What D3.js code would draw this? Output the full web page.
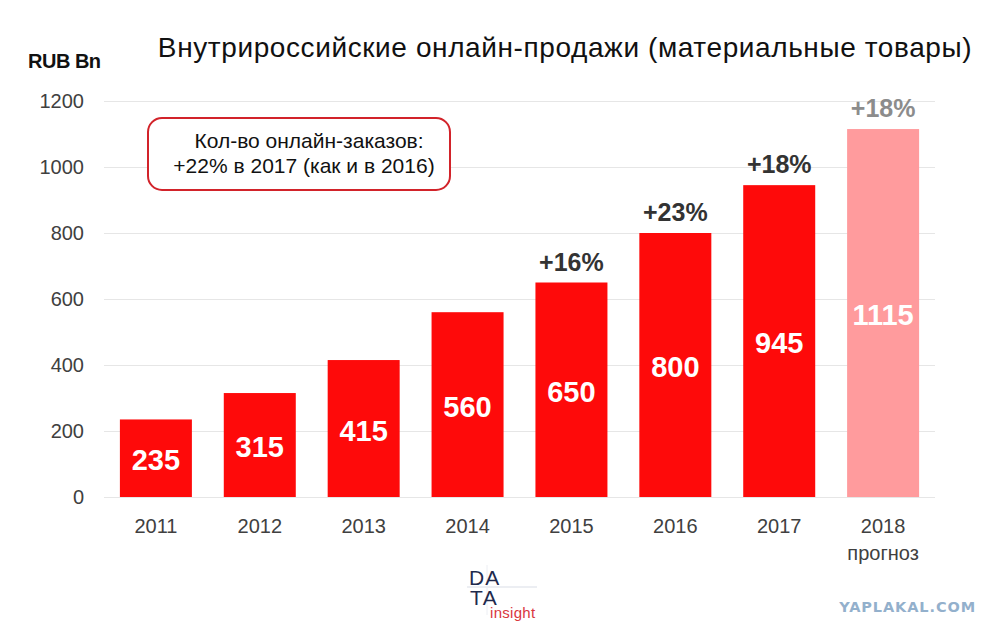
<!DOCTYPE html>
<html>
<head>
<meta charset="utf-8">
<script src="https://cdn.jsdelivr.net/npm/d3@7"></script>
<style>
  body { margin: 0; background: #fff; }
  text { font-family: Arial, "Liberation Sans", sans-serif; }
</style>
</head>
<body>
<div id="chart"></div>
<script>
// данные
const years = ["2011", "2012", "2013", "2014", "2015", "2016", "2017", "2018"];
const sales = [235, 315, 415, 560, 650, 800, 945, 1115];
const growth = [null, null, null, null, "+16%", "+23%", "+18%", "+18%"];
const forecast = [false, false, false, false, false, false, false, true];
const yTicks = [0, 200, 400, 600, 800, 1000, 1200];

const W = 1001, H = 636;

const svg = d3.select("#chart")
    .append("svg")
    .attr("width", W)
    .attr("height", H);

const x = d3.scaleBand()
    .domain(years)
    .range([104, 935])
    .paddingInner(0.307)
    .paddingOuter(0.153);

const y = d3.scaleLinear()
    .domain([0, 1200])
    .range([497, 101]);

// сетка
const yAxis = d3.axisLeft(y)
    .tickValues(yTicks)
    .tickFormat(d3.format("d"))
    .tickSize(-(935 - 104))
    .tickSizeOuter(0)
    .tickPadding(20);

const gy = svg.append("g")
    .attr("transform", "translate(104,0)")
    .call(yAxis);
gy.select(".domain").remove();
gy.selectAll("line")
    .style("stroke", "#e6e6e6")
    .style("stroke-width", 1)
    .style("shape-rendering", "crispEdges");
gy.selectAll("text")
    .style("font-size", "20px")
    .style("fill", "#404040");

// подписи оси X
const xAxis = d3.axisBottom(x).tickSize(0).tickPadding(22);
const gx = svg.append("g")
    .attr("transform", "translate(0,497)")
    .call(xAxis);
gx.select(".domain").remove();
gx.selectAll("text")
    .style("font-size", "20px")
    .style("fill", "#404040");

svg.append("text")
    .attr("x", x("2018") + x.bandwidth() / 2)
    .attr("y", 560)
    .attr("text-anchor", "middle")
    .style("font-size", "20px")
    .style("fill", "#404040")
    .text("прогноз");

// столбцы
const data = years.map((d, i) => ({ year: d, value: sales[i], g: growth[i], f: forecast[i] }));

svg.selectAll(".bar")
    .data(data)
    .enter().append("rect")
    .attr("class", "bar")
    .attr("x", d => x(d.year))
    .attr("y", d => y(d.value))
    .attr("width", x.bandwidth())
    .attr("height", d => y(0) - y(d.value))
    .style("fill", d => d.f ? "#ff9b9d" : "#fe0a0a");

svg.selectAll(".val")
    .data(data)
    .enter().append("text")
    .attr("class", "val")
    .attr("x", d => x(d.year) + x.bandwidth() / 2)
    .attr("y", d => (y(d.value) + y(0)) / 2 + 12)
    .attr("text-anchor", "middle")
    .style("font-size", "29px")
    .style("font-weight", "bold")
    .style("fill", "#fff")
    .text(d => d.value);

svg.selectAll(".grow")
    .data(data.filter(d => d.g))
    .enter().append("text")
    .attr("class", "grow")
    .attr("x", d => x(d.year) + x.bandwidth() / 2)
    .attr("y", d => y(d.value) - 12)
    .attr("text-anchor", "middle")
    .style("font-size", "25px")
    .style("font-weight", "bold")
    .style("fill", d => d.f ? "#8c8c8c" : "#333")
    .text(d => d.g);

// заголовок
svg.append("text")
    .attr("x", 565)
    .attr("y", 57)
    .attr("text-anchor", "middle")
    .style("font-size", "28px")
    .style("letter-spacing", "0.6px")
    .style("fill", "#111")
    .text("Внутрироссийские онлайн-продажи (материальные товары)");

svg.append("text")
    .attr("x", 28)
    .attr("y", 68)
    .style("font-size", "20px")
    .style("font-weight", "bold")
    .style("letter-spacing", "-0.5px")
    .style("fill", "#111")
    .text("RUB Bn");

// выноска
svg.append("rect")
    .attr("x", 148)
    .attr("y", 118)
    .attr("width", 302)
    .attr("height", 72)
    .attr("rx", 14)
    .style("fill", "#fff")
    .style("stroke", "#d2232a")
    .style("stroke-width", 2);

svg.append("text")
    .attr("x", 309)
    .attr("y", 148)
    .attr("text-anchor", "middle")
    .style("font-size", "21px")
    .style("fill", "#111")
    .text("Кол-во онлайн-заказов:");

svg.append("text")
    .attr("x", 304)
    .attr("y", 173)
    .attr("text-anchor", "middle")
    .style("font-size", "21px")
    .style("fill", "#111")
    .text("+22% в 2017 (как и в 2016)");

// логотип
const logo = svg.append("g").attr("transform", "translate(469,585)");
logo.append("line")
    .attr("x1", -2).attr("x2", 68)
    .attr("y1", 2).attr("y2", 2)
    .style("stroke", "#d9dde6").style("stroke-width", 1);
logo.append("line")
    .attr("x1", 18).attr("x2", 18)
    .attr("y1", -20).attr("y2", 30)
    .style("stroke", "#eceef3").style("stroke-width", 1);
logo.append("text").attr("x", 0).attr("y", 0)
    .style("font-size", "21px").style("fill", "#1f2a4d").style("letter-spacing", "1px").text("DA");
logo.append("text").attr("x", 1).attr("y", 20)
    .style("font-size", "21px").style("fill", "#1f2a4d").style("letter-spacing", "1.5px").text("TA");
logo.append("text").attr("x", 21).attr("y", 33)
    .style("font-size", "15px").style("fill", "#d9363e").style("letter-spacing", "0.3px").text("insight");

// водяной знак
svg.append("text")
    .attr("x", 976)
    .attr("y", 612)
    .attr("text-anchor", "end")
    .style("font-family", "'DejaVu Sans', sans-serif")
    .style("font-size", "14.5px")
    .style("font-weight", "bold")
    .style("letter-spacing", "0.9px")
    .style("fill", "#93b0cc")
    .text("YAPLAKAL.COM");
</script>
</body>
</html>
